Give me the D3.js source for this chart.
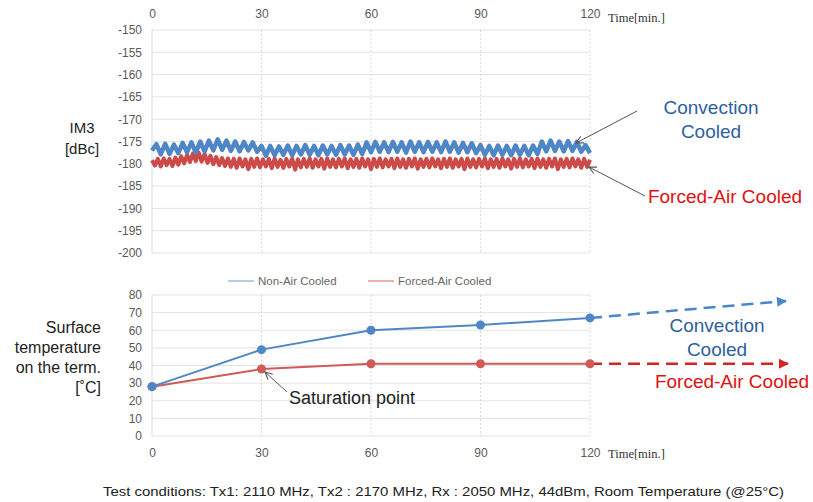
<!DOCTYPE html>
<html>
<head>
<meta charset="utf-8">
<style>
  body { margin: 0; background: #fff; }
  svg { display: block; font-family: "Liberation Sans", Arial, sans-serif; }
  .tick text { fill: #595959; font-size: 12px; }
  .grid line { stroke: #e3e3e3; stroke-width: 1; }
  .vgrid line { stroke: #d9d9d9; stroke-width: 1; stroke-dasharray: 2,2; }
  .unit { font-family: "Liberation Serif", "Times New Roman", serif; font-size: 12.5px; fill: #333; }
</style>
</head>
<body>
<svg width="813" height="502"></svg>
<script src="https://cdn.jsdelivr.net/npm/d3@7"></script>
<script>

// ---- data ----
var timeTicks = [0, 30, 60, 90, 120];
var im3Ticks = [-150, -155, -160, -165, -170, -175, -180, -185, -190, -195, -200];
var tempTicks = [0, 10, 20, 30, 40, 50, 60, 70, 80];

// IM3 [dBc], convection cooled: one sample every 1.2 min (peaks / troughs of the ripple)
var convStep = 1.2;
var im3Convection = [
  -177.0, -175.6, -177.9, -175.5, -177.8, -175.7, -177.6, -175.3, -177.4, -175.2,
  -177.5, -175.0, -177.2, -174.8, -177.0, -174.5, -176.9, -174.8, -177.1, -175.0,
  -177.2, -175.1, -177.0, -175.2, -177.3, -176.0, -178.2, -176.0, -178.1, -176.1,
  -178.0, -175.9, -178.1, -176.0, -177.9, -175.8, -178.0, -176.0, -178.1, -175.9,
  -177.9, -176.0, -178.0, -175.8, -177.9, -175.9, -178.0, -175.7, -177.8, -175.2,
  -177.4, -175.1, -177.3, -175.2, -177.4, -175.1, -177.3, -175.2, -177.5, -175.0,
  -177.3, -175.2, -177.4, -175.1, -177.3, -175.2, -177.4, -175.0, -177.3, -175.2,
  -177.5, -175.3, -177.4, -175.4, -177.6, -175.8, -178.0, -176.0, -178.1, -175.9,
  -178.0, -176.0, -178.1, -175.9, -178.0, -176.0, -178.1, -175.9, -177.8, -175.0,
  -177.2, -174.8, -177.1, -175.0, -177.2, -174.9, -177.1, -175.1, -177.3, -175.8,
  -177.6
];

// IM3 [dBc], forced-air cooled: one sample every 0.8 min
var forcedStep = 0.8;
var im3Forced = [
  -179.2, -180.4, -178.9, -180.6, -178.8, -180.3, -178.9, -180.5,
  -178.6, -180.2, -178.3, -179.9, -178.0, -179.6, -177.7, -179.4, -177.5, -179.5,
  -177.8, -179.8, -178.2, -180.1, -178.5, -180.3, -178.7, -180.5,
  -178.8, -180.7, -178.9, -180.9, -178.8, -180.6, -179.0, -181.2, -178.9, -180.7,
  -178.8, -180.8, -179.0, -180.6, -178.9, -181.0, -178.8, -180.7, -179.1, -180.9,
  -178.9, -180.6, -178.8, -181.3, -179.0, -180.8, -178.9, -180.7, -178.8, -180.9,
  -179.0, -180.6, -178.9, -181.1, -178.8, -180.7, -179.0, -180.8, -178.9, -180.6,
  -178.8, -181.0, -179.0, -180.7, -178.9, -180.9, -178.8, -180.6, -179.0, -181.2,
  -178.9, -180.7, -178.8, -180.8, -179.0, -180.6, -178.9, -181.0, -178.8, -180.7,
  -179.0, -180.9, -178.9, -180.6, -178.8, -181.1, -179.0, -180.7, -178.9, -180.8,
  -178.8, -180.6, -179.0, -181.0, -178.9, -180.7, -178.8, -180.9, -179.0, -180.6,
  -178.9, -181.2, -178.8, -180.7, -179.0, -180.8, -178.9, -180.6, -178.8, -181.0,
  -179.0, -180.7, -178.9, -180.9, -178.8, -180.6, -179.0, -181.1, -178.9, -180.7,
  -178.8, -180.8, -179.0, -180.6, -178.9, -181.0, -178.8, -180.7, -179.0, -180.9,
  -178.9, -180.6, -178.8, -181.2, -179.0, -180.7, -178.9, -180.8, -178.8, -180.6,
  -179.0, -180.9, -178.9, -180.7, -179.1
];

// surface temperature [°C]
var tempTimes = [0, 30, 60, 90, 120];
var tempConvection = [28, 49, 60, 63, 67];
var tempForced = [28, 38, 41, 41, 41];

var legendNames = ["Non-Air Cooled", "Forced-Air Cooled"];

var blue = "#4f86c6", red = "#cc4b49";
var plain = function(d) { return String(d); };   // keep ascii hyphen like the original

var svg = d3.select("svg");

var x = d3.scaleLinear().domain([0, 120]).range([152, 590]);
var yTop = d3.scaleLinear().domain([-200, -150]).range([253, 30]);
var yBot = d3.scaleLinear().domain([0, 80]).range([436, 295]);

// arrow markers
var defs = svg.append("defs");
defs.append("marker").attr("id", "open").attr("viewBox", "0 0 10 10")
    .attr("refX", 9).attr("refY", 5).attr("markerWidth", 9).attr("markerHeight", 9)
    .attr("orient", "auto-start-reverse").attr("markerUnits", "userSpaceOnUse")
  .append("path").attr("d", "M1,1 L9,5 L1,9").attr("fill", "none").attr("stroke", "#555").attr("stroke-width", 1.2);
[["headBlue", "#4a86c8"], ["headRed", "#d42424"]].forEach(function(m) {
  defs.append("marker").attr("id", m[0]).attr("viewBox", "0 0 10 10")
      .attr("refX", 9).attr("refY", 5).attr("markerWidth", 12).attr("markerHeight", 10)
      .attr("orient", "auto").attr("markerUnits", "userSpaceOnUse")
    .append("path").attr("d", "M0,0 L10,5 L0,10 Z").attr("fill", m[1]);
});

// ---------- top chart: IM3 ----------
var topG = svg.append("g");

topG.append("g").attr("class", "grid")
  .selectAll("line").data(im3Ticks).enter().append("line")
    .attr("x1", x(0)).attr("x2", x(120))
    .attr("y1", function(d) { return yTop(d); }).attr("y2", function(d) { return yTop(d); });

topG.append("g").attr("class", "vgrid")
  .selectAll("line").data(timeTicks.slice(1)).enter().append("line")
    .attr("x1", function(d) { return x(d); }).attr("x2", function(d) { return x(d); })
    .attr("y1", yTop(-150)).attr("y2", yTop(-200));

topG.append("line").attr("x1", x(0)).attr("x2", x(0))
    .attr("y1", yTop(-150)).attr("y2", yTop(-200)).attr("stroke", "#d9d9d9");

topG.append("g").attr("transform", "translate(0,21)")
    .call(d3.axisTop(x).tickValues(timeTicks).tickFormat(plain).tickSize(0).tickPadding(3))
    .call(function(g) { g.select(".domain").remove(); });

topG.append("g").attr("transform", "translate(" + x(0) + ",0)")
    .call(d3.axisLeft(yTop).tickValues(im3Ticks).tickFormat(plain).tickSize(0).tickPadding(10))
    .call(function(g) { g.select(".domain").remove(); });

var lineTop = d3.line().x(function(d) { return x(d[0]); }).y(function(d) { return yTop(d[1]); });

topG.append("path")
    .datum(im3Forced.map(function(v, i) { return [i * forcedStep, v]; }))
    .attr("fill", "none").attr("stroke", red).attr("stroke-width", 4)
    .attr("stroke-linejoin", "round")
    .attr("d", lineTop);

topG.append("path")
    .datum(im3Convection.map(function(v, i) { return [i * convStep, v]; }))
    .attr("fill", "none").attr("stroke", blue).attr("stroke-width", 4.5)
    .attr("stroke-linejoin", "round")
    .attr("d", lineTop);

topG.append("text").attr("class", "unit").attr("x", 608).attr("y", 22).text("Time[min.]");

// left label
svg.append("text").attr("x", 82).attr("y", 133).attr("text-anchor", "middle")
    .attr("font-size", 15).attr("fill", "#222").text("IM3");
svg.append("text").attr("x", 82).attr("y", 154).attr("text-anchor", "middle")
    .attr("font-size", 15).attr("fill", "#222").text("[dBc]");

// annotations top
svg.append("line").attr("x1", 637).attr("y1", 111).attr("x2", 576).attr("y2", 143)
    .attr("stroke", "#555").attr("stroke-width", 1).attr("marker-end", "url(#open)");
svg.append("line").attr("x1", 645).attr("y1", 196).attr("x2", 589).attr("y2", 167)
    .attr("stroke", "#555").attr("stroke-width", 1).attr("marker-end", "url(#open)");

svg.append("text").attr("x", 711).attr("y", 114).attr("text-anchor", "middle")
    .attr("font-size", 19).attr("fill", "#2e5f9e").text("Convection");
svg.append("text").attr("x", 711).attr("y", 138).attr("text-anchor", "middle")
    .attr("font-size", 19).attr("fill", "#2e5f9e").text("Cooled");
svg.append("text").attr("x", 725).attr("y", 203).attr("text-anchor", "middle")
    .attr("font-size", 19).attr("fill", "#e01010").text("Forced-Air Cooled");

// legend
var legend = svg.append("g").attr("transform", "translate(0,281)");
var legX = [228, 368];
legendNames.forEach(function(name, i) {
  legend.append("line").attr("x1", legX[i]).attr("x2", legX[i] + 26).attr("y1", 0).attr("y2", 0)
      .attr("stroke", i === 0 ? "#b3cdec" : "#eab2b1").attr("stroke-width", 2);
  legend.append("text").attr("x", legX[i] + 30).attr("y", 4).attr("font-size", 11.5)
      .attr("fill", "#666").text(name);
});

// ---------- bottom chart: temperature ----------
var botG = svg.append("g");

botG.append("g").attr("class", "grid")
  .selectAll("line").data(tempTicks).enter().append("line")
    .attr("x1", x(0)).attr("x2", x(120))
    .attr("y1", function(d) { return yBot(d); }).attr("y2", function(d) { return yBot(d); });

botG.append("g").attr("class", "vgrid")
  .selectAll("line").data(timeTicks.slice(1)).enter().append("line")
    .attr("x1", function(d) { return x(d); }).attr("x2", function(d) { return x(d); })
    .attr("y1", yBot(80)).attr("y2", yBot(0));

botG.append("line").attr("x1", x(0)).attr("x2", x(0))
    .attr("y1", yBot(80)).attr("y2", yBot(0)).attr("stroke", "#d9d9d9");

botG.append("g").attr("transform", "translate(" + x(0) + ",0)")
    .call(d3.axisLeft(yBot).tickValues(tempTicks).tickFormat(plain).tickSize(0).tickPadding(10))
    .call(function(g) { g.select(".domain").remove(); });

botG.append("g").attr("transform", "translate(0," + yBot(0) + ")")
    .call(d3.axisBottom(x).tickValues(timeTicks).tickFormat(plain).tickSize(0).tickPadding(12))
    .call(function(g) { g.select(".domain").remove(); });

botG.append("text").attr("class", "unit").attr("x", 608).attr("y", 458).text("Time[min.]");

// dashed extrapolation arrows
botG.append("line").attr("x1", x(120)).attr("y1", yBot(67)).attr("x2", 786).attr("y2", 301)
    .attr("stroke", "#4a86c8").attr("stroke-width", 2.5).attr("stroke-dasharray", "12,7")
    .attr("marker-end", "url(#headBlue)");
botG.append("line").attr("x1", x(120)).attr("y1", yBot(41)).attr("x2", 788).attr("y2", yBot(41))
    .attr("stroke", "#d42424").attr("stroke-width", 2.5).attr("stroke-dasharray", "12,7")
    .attr("marker-end", "url(#headRed)");

var lineBot = d3.line().x(function(d) { return x(d[0]); }).y(function(d) { return yBot(d[1]); });

[[tempForced, "#d05a57"], [tempConvection, "#4f86c6"]].forEach(function(s) {
  var pts = tempTimes.map(function(t, i) { return [t, s[0][i]]; });
  botG.append("path").datum(pts).attr("fill", "none").attr("stroke", s[1])
      .attr("stroke-width", 2).attr("d", lineBot);
  botG.selectAll(null).data(pts).enter().append("circle")
      .attr("cx", function(d) { return x(d[0]); }).attr("cy", function(d) { return yBot(d[1]); })
      .attr("r", 4.5).attr("fill", s[1]);
});

// left label bottom
["Surface", "temperature", "on the term.", "[\u02daC]"].forEach(function(t, i) {
  svg.append("text").attr("x", 101).attr("y", 333 + i * 20).attr("text-anchor", "end")
      .attr("font-size", 16).attr("fill", "#222").text(t);
});

// annotations bottom
svg.append("line").attr("x1", 287).attr("y1", 392).attr("x2", 265).attr("y2", 372)
    .attr("stroke", "#555").attr("stroke-width", 1).attr("marker-end", "url(#open)");
svg.append("text").attr("x", 289).attr("y", 404).attr("font-size", 18).attr("fill", "#222")
    .text("Saturation point");

svg.append("text").attr("x", 717).attr("y", 332).attr("text-anchor", "middle")
    .attr("font-size", 19).attr("fill", "#2e5f9e").text("Convection");
svg.append("text").attr("x", 717).attr("y", 356).attr("text-anchor", "middle")
    .attr("font-size", 19).attr("fill", "#2e5f9e").text("Cooled");
svg.append("text").attr("x", 732).attr("y", 388).attr("text-anchor", "middle")
    .attr("font-size", 19).attr("fill", "#e01010").text("Forced-Air Cooled");

// footer
svg.append("text").attr("x", 103).attr("y", 496).attr("font-size", 13.5).attr("fill", "#222")
    .attr("textLength", 681).attr("lengthAdjust", "spacingAndGlyphs")
    .text("Test conditions: Tx1: 2110 MHz, Tx2 : 2170 MHz, Rx : 2050 MHz, 44dBm, Room Temperature (@25\u00b0C)");

</script>
</body>
</html>
